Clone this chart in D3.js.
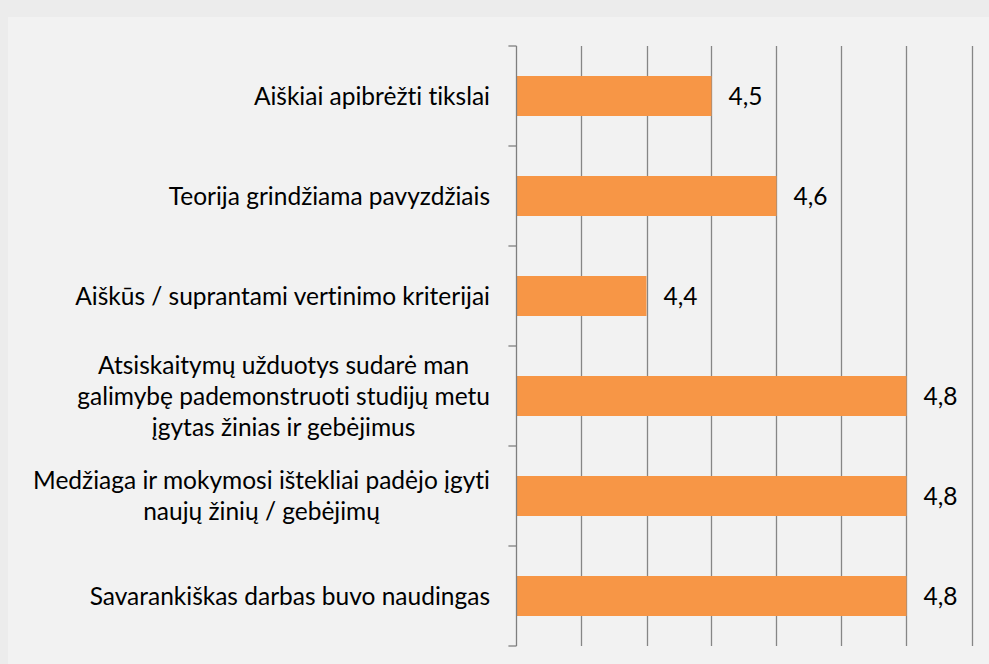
<!DOCTYPE html>
<html>
<head>
<meta charset="utf-8">
<script src="https://cdn.jsdelivr.net/npm/d3@7"></script>
<style>
  body { margin: 0; background: #ececec; }
  svg { display: block; }
  text { font-family: Lato, "Open Sans", sans-serif; fill: #000; font-variant-ligatures: none; }
</style>
</head>
<body>
<div class="container"></div>
<script>
const categories = [
  "Aiškiai apibrėžti tikslai",
  "Teorija grindžiama pavyzdžiais",
  "Aiškūs / suprantami vertinimo kriterijai",
  "Atsiskaitymų užduotys sudarė man\ngalimybę pademonstruoti studijų metu\nįgytas žinias ir gebėjimus",
  "Medžiaga ir mokymosi ištekliai padėjo įgyti\nnaujų žinių / gebėjimų",
  "Savarankiškas darbas buvo naudingas"
]
const values = [4.5, 4.6, 4.4, 4.8, 4.8, 4.8]
const valueLabels = ["4,5", "4,6", "4,4", "4,8", "4,8", "4,8"]
const xTicks = [4.2, 4.3, 4.4, 4.5, 4.6, 4.7, 4.8, 4.9]

const w = 989
const h = 664
const plotLeft = 516.5
const plotRight = 971.5
const plotTop = 46
const plotBottom = 646
const fontSize = 24.5

const svg = d3.select(".container")
    .append("svg")
    .attr("width", w)
    .attr("height", h)

// plot area background
svg.append("rect")
    .attr("x", 8)
    .attr("y", 17)
    .attr("width", w - 8)
    .attr("height", h - 17)
    .attr("fill", "#f2f2f2")

const xScale = d3.scaleLinear()
    .domain([4.2, 4.9])
    .range([plotLeft, plotRight])

const yScale = d3.scaleBand()
    .domain(categories)
    .range([plotTop, plotBottom])
    .paddingInner(0.6)
    .paddingOuter(0.3)

// vertical gridlines
svg.append("g")
    .selectAll("line")
    .data(xTicks.slice(1))
    .enter()
    .append("line")
    .attr("x1", d => Math.round(xScale(d)) + 0.5)
    .attr("x2", d => Math.round(xScale(d)) + 0.5)
    .attr("y1", plotTop)
    .attr("y2", plotBottom)
    .attr("stroke", "#868686")
    .attr("stroke-width", 1.3)

// bars
svg.selectAll(".bar")
    .data(values)
    .enter()
    .append("rect")
    .attr("class", "bar")
    .attr("x", xScale(4.2))
    .attr("y", (d, i) => yScale(categories[i]))
    .attr("width", d => xScale(d) - xScale(4.2))
    .attr("height", yScale.bandwidth())
    .attr("fill", "#f79646")

// category axis: line with ticks at band boundaries
const step = yScale.step()
const boundaries = d3.range(categories.length + 1).map(i => plotTop + i * step)
const axis = svg.append("g")
axis.append("line")
    .attr("x1", plotLeft).attr("x2", plotLeft)
    .attr("y1", plotTop).attr("y2", plotBottom)
    .attr("stroke", "#7f7f7f")
    .attr("stroke-width", 1.3)
axis.selectAll(".tick")
    .data(boundaries)
    .enter()
    .append("line")
    .attr("x1", plotLeft - 8).attr("x2", plotLeft)
    .attr("y1", d => d).attr("y2", d => d)
    .attr("stroke", "#7f7f7f")
    .attr("stroke-width", 1.3)

// category labels, centred lines, block right-aligned
const lineH = 31
categories.forEach((c, i) => {
    const lines = c.split("\n")
    const cy = yScale(c) + yScale.bandwidth() / 2
    const t = svg.append("text")
        .attr("text-anchor", "middle")
        .attr("font-size", fontSize)
    lines.forEach((ln, j) => {
        t.append("tspan")
            .attr("x", 0)
            .attr("y", cy + (j - (lines.length - 1) / 2) * lineH)
            .attr("dy", "0.35em")
            .text(ln)
    })
    const bw = t.node().getBBox().width
    t.selectAll("tspan").attr("x", 490 - bw / 2)
})

// value labels
svg.selectAll(".val")
    .data(values)
    .enter()
    .append("text")
    .attr("class", "val")
    .attr("x", d => xScale(d) + 17)
    .attr("y", (d, i) => yScale(categories[i]) + yScale.bandwidth() / 2)
    .attr("dy", "0.35em")
    .attr("font-size", fontSize)
    .text((d, i) => valueLabels[i])
</script>
</body>
</html>
